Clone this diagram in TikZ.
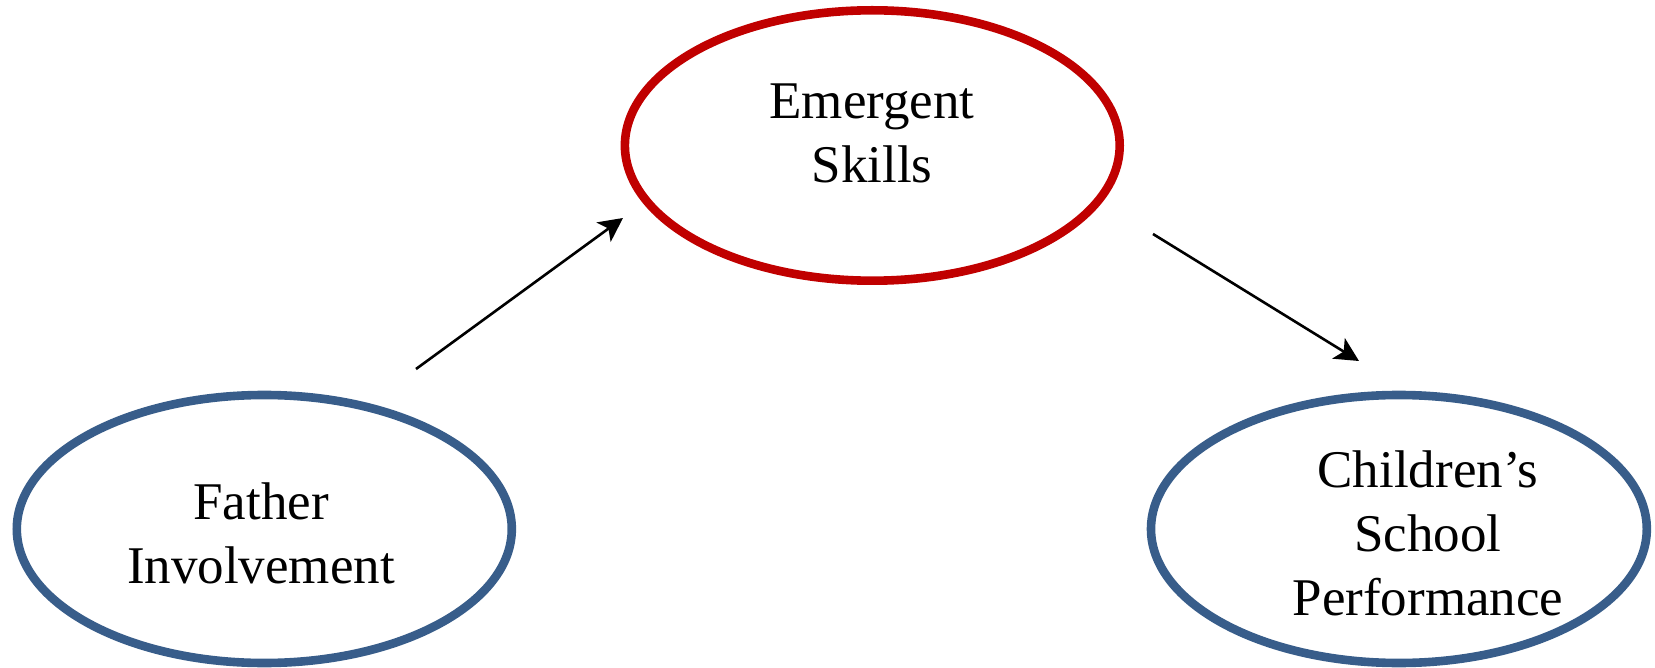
\documentclass[tikz,border=0pt]{standalone}
\usepackage{fontspec}
\setmainfont{Liberation Serif}
\usetikzlibrary{shapes.geometric,arrows.meta}
\definecolor{ovalblue}{HTML}{385D8A}
\definecolor{ovalred}{HTML}{C00000}
\begin{document}
\begin{tikzpicture}[x=0.5pt,y=-0.5pt,
  oval/.style={ellipse, draw, line width=4.3pt, inner sep=0pt},
  ovaltext/.style={font=\fontsize{26.5}{32}\selectfont, align=center, inner sep=0pt},
  link/.style={-{Stealth[length=12pt,width=12pt,inset=3pt]}, line width=1.3pt}]
\useasboundingbox (0,0) rectangle (1655,668);

% the three constructs
\node[oval, draw=ovalblue, minimum width=247.5pt, minimum height=134pt] (fi) at (264.3,529) {};
\node[oval, draw=ovalred, minimum width=247.4pt, minimum height=135.2pt] (es) at (872.3,145.5) {};
\node[oval, draw=ovalblue, minimum width=247.9pt, minimum height=134pt] (csp) at (1398.9,529) {};

\node[ovaltext] (fi-t) at (261,533) {Father\\Involvement};
\node[ovaltext] (es-t) at (872,133) {Emergent\\Skills};
\node[ovaltext] (csp-t) at (1428,533) {Children’s\\School\\Performance};

% paths between them
\coordinate (fi-out) at (416,369);
\coordinate (es-in) at (623,218);
\coordinate (es-out) at (1153,234);
\coordinate (csp-in) at (1359,361);
\draw[link] (fi-out) -- (es-in);
\draw[link] (es-out) -- (csp-in);
\end{tikzpicture}
\end{document}
